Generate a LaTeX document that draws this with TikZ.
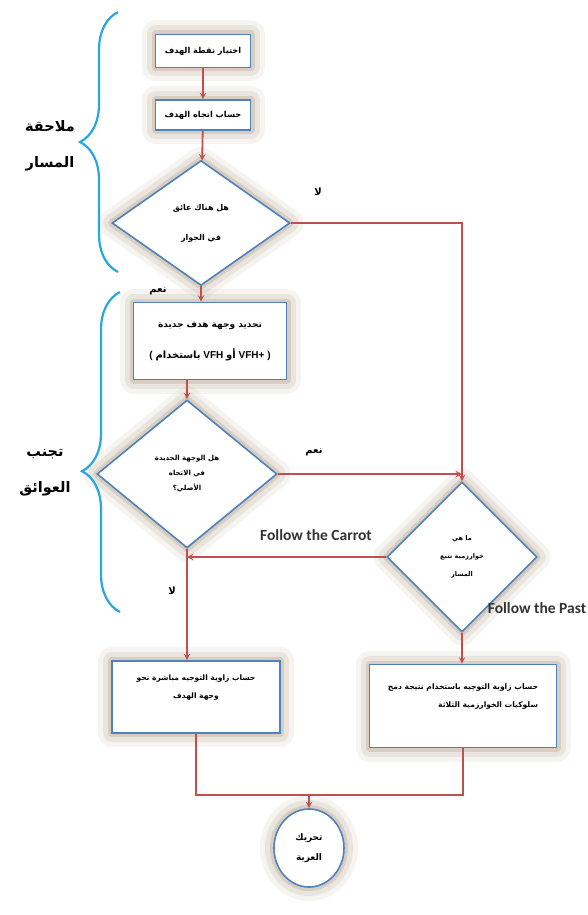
\documentclass[tikz,border=0pt]{standalone}
\usepackage{fontspec}
\setmainfont{Carlito}
\newfontfamily\arabicfont[Script=Arabic]{DejaVu Sans}
\newfontfamily\arialfont{Liberation Sans}
\TeXXeTstate=1
\usetikzlibrary{shapes.geometric,decorations.pathreplacing}

\definecolor{linered}{RGB}{192,80,77}
\definecolor{boxblue}{RGB}{79,129,189}
\definecolor{bracecyan}{RGB}{41,168,224}
\definecolor{glowtan}{RGB}{170,148,120}

\newcommand{\ar}[1]{{\arabicfont\beginR #1\endR}}

\tikzset{
  glow/.style={preaction={draw=glowtan, line width=28, opacity=0.10, line join=round},
               preaction={draw=glowtan, line width=18, opacity=0.16, line join=round},
               preaction={draw=glowtan, line width=8, opacity=0.28, line join=round}},
  stepbox/.style={glow, rectangle, draw=boxblue, line width=1.6, fill=white,
                  align=center, inner sep=2, font=\bfseries\fontsize{8.2}{10}\selectfont},
  ask/.style={glow, diamond, draw=boxblue, line width=1.6, fill=white,
              align=center, inner sep=0, font=\bfseries\fontsize{7}{9}\selectfont},
  endbox/.style={glow, ellipse, draw=boxblue, line width=1.6, fill=white,
                 align=center, inner sep=0, font=\bfseries\fontsize{9}{11}\selectfont},
  flow/.style={draw=linered, line width=1.8, ->, >=stealth},
  route/.style={draw=linered, line width=1.8},
  tag/.style={font=\bfseries\fontsize{10}{12}\selectfont},
  eng/.style={font=\bfseries\fontsize{15.5}{18}\selectfont, text=black!80},
  part/.style={align=center, font=\bfseries\fontsize{14.5}{18}\selectfont},
  curly/.style={draw=bracecyan, line width=2.2, decorate,
                decoration={brace, amplitude=38}}
}

\begin{document}
\begin{tikzpicture}[x=1pt, y=-1pt]
\useasboundingbox[fill=white] (0,0) rectangle (587,915);

% path following
\node[stepbox, minimum width=95, minimum height=33] (pick) at (203,51) {\ar{اختيار نقطة الهدف}};
\node[stepbox, minimum width=95, minimum height=30] (head) at (203,115) {\ar{حساب اتجاه الهدف}};
\node[ask, minimum width=178, minimum height=125, font=\bfseries\fontsize{8}{10}\selectfont] (near) at (201,223) {\ar{هل هناك عائق}\\[20pt]\ar{في الجوار}};

% obstacle avoidance
\node[stepbox, minimum width=153, minimum height=77, font=\bfseries\fontsize{9}{11}\selectfont] (vfh) at (210,341) {\ar{تحديد وجهة هدف جديدة}\\[18pt]{\fontsize{10}{12}\selectfont\arialfont\hbox{(}\ \hbox{\ar{باستخدام}}\ \hbox{VFH}\ \hbox{\ar{أو}}\ \hbox{VFH+}\ \hbox{)}}};
\node[ask, minimum width=180, minimum height=148] (same) at (187,474) {\ar{هل الوجهة الجديدة}\\[6pt]\ar{في الاتجاه}\\[6pt]\ar{الأصلي؟}};
\node[ask, minimum width=150, minimum height=150, font=\bfseries\fontsize{6.5}{8}\selectfont] (algo) at (462,557) {\ar{ما هي}\\[10pt]\ar{خوارزمية تتبع}\\[10pt]\ar{المسار}};

% steering
\node[stepbox, minimum width=168, minimum height=72, font=\bfseries\fontsize{7.5}{9}\selectfont] (direct) at (196,697) {\ar{حساب زاوية التوجيه مباشرة نحو}\\[9pt]\ar{وجهة الهدف}\\[12pt]\mbox{}};
\node[stepbox, align=right, minimum width=187, minimum height=83, font=\bfseries\fontsize{7.6}{9}\selectfont] (fuse) at (463,706) {\ar{حساب زاوية التوجيه باستخدام نتيجة دمج}\\[9pt]\ar{سلوكيات الخوارزمية الثلاثة}\\[12pt]\mbox{}};
\node[endbox, minimum width=70, minimum height=78] (move) at (309,848) {\ar{تحريك}\\[9pt]\ar{العربة}};

% group labels
\node[part] (follow) at (50,146) {\ar{ملاحقة}\\[18pt]\ar{المسار}};
\node[part] (avoid) at (45,473) {\ar{تجنب}\\[18pt]\ar{العوائق}};
\draw[curly] (118,272) -- (118,12);
\draw[curly, decoration={aspect=0.44}] (120,612) -- (120,292);

% edge labels
\node[tag] (no1) at (318,192) {\ar{لا}};
\node[tag] (yes1) at (158,291) {\ar{نعم}};
\node[tag] (yes2) at (314,452) {\ar{نعم}};
\node[tag] (no2) at (172,591) {\ar{لا}};
\node[eng] (carrot) at (316,535) {Follow the Carrot};
\node[eng] (past) at (537,608) {Follow the Past};

% connectors
\draw[flow] (pick) -- (head);
\draw[flow] (head) -- (near);
\draw[flow] (near.east) -| (algo.north);
\draw[flow] (near.south) -- (near.south |- vfh.north);
\draw[flow] (vfh.south -| same.north) -- (same.north);
\draw[flow] (same.east) -- (same.east -| algo.north);
\draw[flow] (algo.west) -- (algo.west -| same.south);
\draw[flow] (same.south) -- (same.south |- direct.north);
\draw[flow] (algo.south) -- (algo.south |- fuse.north);
\coordinate (join) at (309,795);
\draw[route] (direct.south) |- (join) -| (fuse.south);
\draw[flow] (join) -- (move);
\end{tikzpicture}
\end{document}
